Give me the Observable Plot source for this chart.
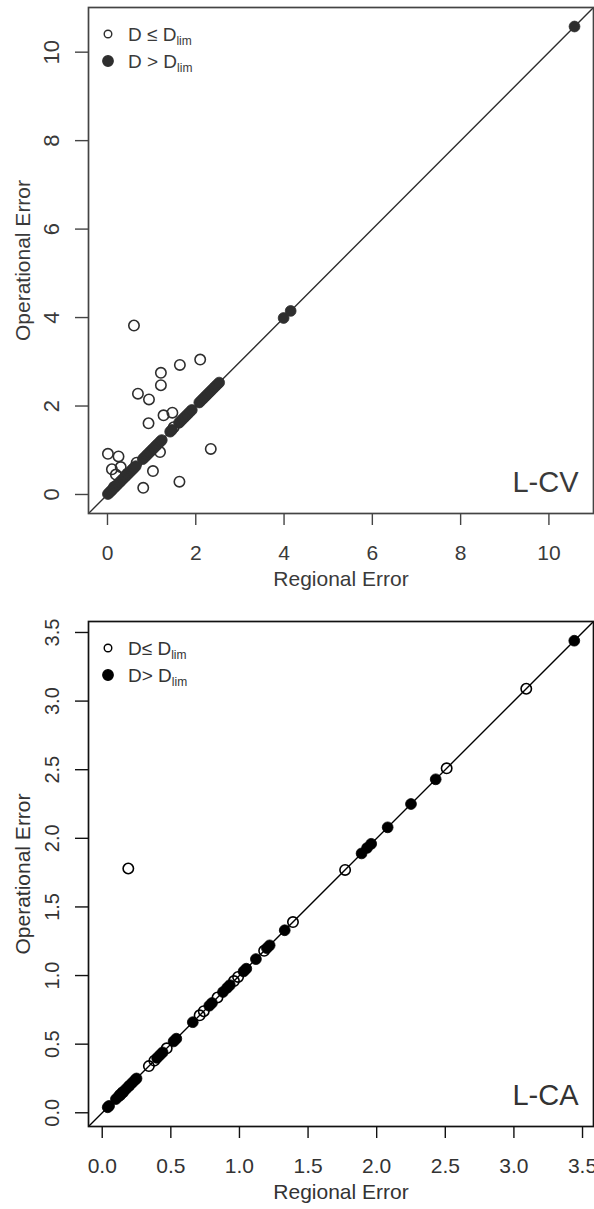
<!DOCTYPE html>
<html><head><meta charset="utf-8">
<script src="https://cdn.jsdelivr.net/npm/d3@7"></script>
<script src="https://cdn.jsdelivr.net/npm/@observablehq/plot@0.6"></script>
<style>
body{margin:0;background:#fff;}
#chart{width:594px;}
#chart svg{display:block;}
</style></head><body><div id="chart"></div>
<script>
// ---------- L-CV panel ----------
const cvOpenRegional    = [0.60, 0.69, 0.94, 1.21, 1.21, 1.64, 2.10, 1.27, 1.47, 0.93, 2.34, 1.19, 1.03, 1.63, 0.81, 0.01, 0.25, 0.10, 0.30, 0.19, 0.66, 1.50, 0.15, 0.45];
const cvOpenOperational = [3.82, 2.28, 2.15, 2.75, 2.47, 2.93, 3.05, 1.79, 1.85, 1.61, 1.03, 0.96, 0.53, 0.29, 0.15, 0.92, 0.86, 0.57, 0.62, 0.45, 0.72, 1.52, 0.17, 0.47];
const cvFilledRegional  = [0.01, 0.04, 0.07, 0.10, 0.13, 0.17, 0.20, 0.24, 0.28, 0.31, 0.35, 0.39, 0.42, 0.46, 0.50, 0.54, 0.57, 0.60, 0.64, 0.80, 0.84, 0.88, 0.91, 0.95, 0.98, 1.02, 1.05, 1.09, 1.12, 1.16, 1.20, 1.23, 1.42, 1.46, 1.62, 1.66, 1.71, 1.76, 1.81, 1.86, 1.91, 2.08, 2.13, 2.18, 2.23, 2.28, 2.33, 2.38, 2.43, 2.48, 2.53, 3.99, 4.15, 10.58];
const cvFilledOperational = [0.01, 0.04, 0.07, 0.10, 0.13, 0.17, 0.20, 0.24, 0.28, 0.31, 0.35, 0.39, 0.42, 0.46, 0.50, 0.54, 0.57, 0.60, 0.64, 0.80, 0.84, 0.88, 0.91, 0.95, 0.98, 1.02, 1.05, 1.09, 1.12, 1.16, 1.20, 1.23, 1.42, 1.46, 1.62, 1.66, 1.71, 1.76, 1.81, 1.86, 1.91, 2.08, 2.13, 2.18, 2.23, 2.28, 2.33, 2.38, 2.43, 2.48, 2.53, 3.99, 4.15, 10.58];
const cvTicks = [0, 2, 4, 6, 8, 10];
const cvDomain = [-0.43, 11.01];
const cvLegendLabels = ["D \u2264 D", "D > D"];

// ---------- L-CA panel ----------
const caOpenRegional    = [0.19, 3.09, 2.51, 1.77, 1.39, 1.18, 0.99, 0.96, 0.84, 0.74, 0.71, 0.47, 0.38, 0.34, 0.15, 0.13];
const caOpenOperational = [1.78, 3.09, 2.51, 1.77, 1.39, 1.18, 0.99, 0.96, 0.84, 0.74, 0.71, 0.47, 0.38, 0.34, 0.15, 0.13];
const caFilledRegional  = [3.44, 2.43, 2.25, 2.08, 1.96, 1.93, 1.89, 1.33, 1.22, 1.20, 1.12, 1.05, 1.03, 0.93, 0.91, 0.88, 0.80, 0.78, 0.66, 0.54, 0.52, 0.44, 0.42, 0.40, 0.25, 0.24, 0.22, 0.20, 0.19, 0.17, 0.14, 0.12, 0.10, 0.05, 0.04];
const caFilledOperational = [3.44, 2.43, 2.25, 2.08, 1.96, 1.93, 1.89, 1.33, 1.22, 1.20, 1.12, 1.05, 1.03, 0.93, 0.91, 0.88, 0.80, 0.78, 0.66, 0.54, 0.52, 0.44, 0.42, 0.40, 0.25, 0.24, 0.22, 0.20, 0.19, 0.17, 0.14, 0.12, 0.10, 0.05, 0.04];
const caTicks = [0, 0.5, 1, 1.5, 2, 2.5, 3, 3.5];
const caDomain = [-0.10, 3.58];
const caLegendLabels = ["D\u2264 D", "D> D"];

const xTitle = "Regional Error";
const yTitle = "Operational Error";
const subscript = "lim";
const FONT = "'Liberation Sans', Arial, Helvetica, sans-serif";

function legendMark(labels, ink, textInk) {
  return (index, scales, values, dims) => {
    const g = d3.create("svg:g").attr("font-family", FONT).attr("text-anchor", "start");
    labels.forEach((lab, i) => {
      const cy = dims.marginTop + 27 + i * 27;
      const cx = dims.marginLeft + 20;
      g.append("circle").attr("cx", cx).attr("cy", cy).attr("r", i === 0 ? 3.8 : 5.2)
        .attr("fill", i === 0 ? "none" : ink).attr("stroke", ink).attr("stroke-width", 1.4);
      const t = g.append("text").attr("x", cx + 20).attr("y", cy + 7).attr("font-size", 19).attr("fill", textInk);
      t.append("tspan").text(lab);
      t.append("tspan").attr("font-size", 12).attr("dy", 4).text(subscript);
    });
    return g.node();
  };
}

function panel(o) {
  const open = o.openX.map((x, i) => ({x, y: o.openY[i]}));
  const filled = o.filledX.map((x, i) => ({x, y: o.filledY[i]}));
  const diag = [{v: o.domain[0]}, {v: o.domain[1]}];
  return Plot.plot({
    width: 594, height: o.height,
    marginTop: o.marginTop, marginBottom: o.marginBottom, marginLeft: 88, marginRight: 1,
    x: {domain: o.domain},
    y: {domain: o.domain},
    style: {fontFamily: FONT, color: o.text, background: "white", overflow: "visible"},
    marks: [
      Plot.line(diag, {x: "v", y: "v", stroke: o.ink, strokeWidth: 1.4, clip: true}),
      Plot.dot(open, {x: "x", y: "y", r: 5.2, stroke: o.ink, strokeWidth: 1.6, fill: "none"}),
      Plot.dot(filled, {x: "x", y: "y", r: 5.4, fill: o.ink, stroke: o.ink, strokeWidth: 0.8}),
      Plot.frame({stroke: o.frame, strokeWidth: 1.7}),
      Plot.axisX({ticks: o.ticks, tickFormat: o.fmt, tickSize: 12, tickPadding: 20, fontSize: 21, label: null, stroke: o.frame, strokeWidth: 1.4, fill: o.text}),
      Plot.axisY({ticks: o.ticks, tickFormat: o.fmt, tickSize: 13, tickPadding: 17, fontSize: o.yFont, tickRotate: -90, label: null, stroke: o.frame, strokeWidth: 1.4, fill: o.text}),
      Plot.text([xTitle], {frameAnchor: "bottom", dy: 72, lineAnchor: "bottom", fontSize: 21, fill: o.text}),
      Plot.text([yTitle], {frameAnchor: "left", dx: -65, rotate: -90, textAnchor: "middle", lineAnchor: "middle", fontSize: 21, fill: o.text}),
      Plot.text([o.name], {frameAnchor: "bottom-right", dx: -15, dy: -22, textAnchor: "end", lineAnchor: "bottom", fontSize: 29, fill: o.text}),
      legendMark(o.legend, o.ink, o.text)
    ]
  });
}

const chart = document.getElementById("chart");
chart.append(panel({
  openX: cvOpenRegional, openY: cvOpenOperational,
  filledX: cvFilledRegional, filledY: cvFilledOperational,
  domain: cvDomain, ticks: cvTicks, fmt: d3.format("d"),
  height: 598, marginTop: 7, marginBottom: 85, yFont: 22,
  ink: "#2e2e2e", frame: "#444", text: "#3a3a3a", name: "L-CV", legend: cvLegendLabels
}));
chart.append(panel({
  openX: caOpenRegional, openY: caOpenOperational,
  filledX: caFilledRegional, filledY: caFilledOperational,
  domain: caDomain, ticks: caTicks, fmt: d3.format(".1f"),
  height: 611, marginTop: 23, marginBottom: 83, yFont: 20,
  ink: "#000", frame: "#111", text: "#333", name: "L-CA", legend: caLegendLabels
}));
</script>
</body></html>
